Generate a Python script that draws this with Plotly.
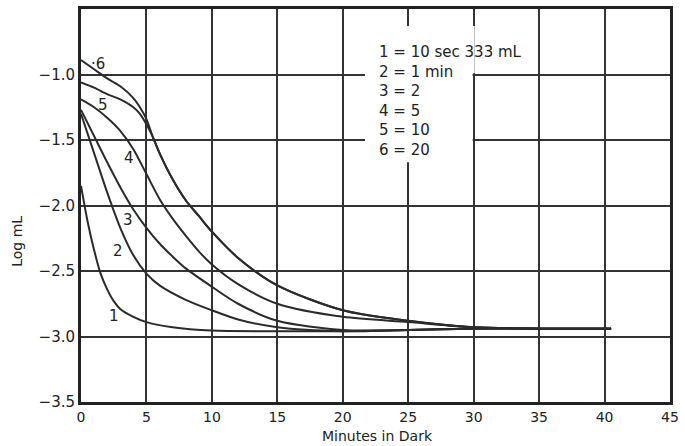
import plotly.graph_objects as go

# ---- data ----
c1_x = [0, 0.5, 1, 1.5, 2, 2.5, 3, 4, 5, 7, 10, 15, 20, 25, 30, 35, 40.5]
c1_y = [-1.85, -2.12, -2.34, -2.52, -2.64, -2.73, -2.79, -2.85, -2.89, -2.93, -2.955, -2.96, -2.96, -2.95, -2.94, -2.94, -2.94]

c2_x = [0, 1, 2, 3, 4, 5, 6, 8, 10, 12, 15, 20, 25, 30, 35, 40.5]
c2_y = [-1.3, -1.6, -1.9, -2.17, -2.38, -2.52, -2.61, -2.72, -2.8, -2.87, -2.93, -2.96, -2.95, -2.94, -2.94, -2.94]

c3_x = [0, 1, 2, 3, 4, 5, 6, 7, 8, 10, 12, 15, 20, 25, 30, 35, 40.5]
c3_y = [-1.27, -1.47, -1.67, -1.86, -2.03, -2.17, -2.29, -2.39, -2.48, -2.62, -2.75, -2.88, -2.95, -2.95, -2.94, -2.94, -2.94]

c4_x = [0, 1, 2, 3, 4, 5, 6, 7, 8, 9, 10, 12, 15, 20, 25, 30, 35, 40.5]
c4_y = [-1.19, -1.25, -1.33, -1.43, -1.57, -1.76, -1.95, -2.1, -2.23, -2.35, -2.45, -2.6, -2.75, -2.85, -2.89, -2.93, -2.94, -2.94]

c5_x = [0, 1, 2, 3, 4, 4.5, 5, 5.5, 6, 7, 8, 9, 10, 12, 15, 20, 25, 30, 35, 40.5]
c5_y = [-1.06, -1.1, -1.15, -1.19, -1.25, -1.3, -1.38, -1.48, -1.6, -1.8, -1.96, -2.08, -2.2, -2.4, -2.61, -2.8, -2.88, -2.93, -2.94, -2.94]

c6_x = [0, 1, 2, 3, 4, 4.5, 5, 5.5, 6, 7, 8, 9, 10, 12, 15, 20, 25, 30, 35, 40.5]
c6_y = [-0.89, -0.96, -1.03, -1.09, -1.18, -1.25, -1.34, -1.48, -1.6, -1.8, -1.96, -2.08, -2.2, -2.4, -2.61, -2.8, -2.88, -2.93, -2.94, -2.94]

curve_labels = ["1", "2", "3", "4", "5", "·6"]
label_x = [2.55, 2.8, 3.56, 3.7, 1.67, 1.3]
label_y = [-2.84, -2.35, -2.11, -1.64, -1.23, -0.92]

x_ticks = [0, 5, 10, 15, 20, 25, 30, 35, 40, 45]
y_ticks = [-3.5, -3.0, -2.5, -2.0, -1.5, -1.0]
y_ticktext = ["−3.5", "−3.0", "−2.5", "−2.0", "−1.5", "−1.0"]

key_lines = ["1 = 10 sec 333 mL", "2 = 1 min", "3 = 2", "4 = 5", "5 = 10", "6 = 20"]

ink = "#222222"
FONT = "DejaVu Sans"

fig = go.Figure()
for xs, ys in [(c1_x, c1_y), (c2_x, c2_y), (c3_x, c3_y), (c4_x, c4_y), (c5_x, c5_y), (c6_x, c6_y)]:
    fig.add_trace(go.Scatter(x=xs, y=ys, mode="lines",
                             line=dict(color="#2b2b2b", width=2, shape="spline", smoothing=0.8),
                             showlegend=False, hoverinfo="skip"))

for t, lx, ly in zip(curve_labels, label_x, label_y):
    fig.add_annotation(x=lx, y=ly, text=t, showarrow=False,
                       font=dict(family=FONT, size=15, color=ink))

# white box behind the key (gridlines are broken there)
fig.add_shape(type="rect", x0=21.7, x1=30.08, y0=-0.63, y1=-0.99,
              fillcolor="white", line=dict(width=0), layer="above")
fig.add_shape(type="rect", x0=21.7, x1=29.92, y0=-0.99, y1=-1.67,
              fillcolor="white", line=dict(width=0), layer="above")

fig.add_annotation(x=22.65, y=-0.745, xref="x", yref="y", xanchor="left", yanchor="top",
                   align="left", showarrow=False, text="<br>".join(key_lines),
                   font=dict(family=FONT, size=15, color=ink))

# axis titles
fig.add_annotation(text="Log mL", showarrow=False, textangle=-90,
                   font=dict(family=FONT, size=14, color=ink))
fig.add_annotation(text="Minutes in Dark", showarrow=False,
                   font=dict(family=FONT, size=14, color=ink))

fig.update_xaxes(range=[0, 45], tickvals=x_ticks, showgrid=True, gridcolor="#333333", gridwidth=2,
                 showline=True, linecolor="#222222", linewidth=3, mirror=True, zeroline=False,
                 ticks="", tickfont=dict(family=FONT, size=14, color=ink))
fig.update_yaxes(range=[-3.5, -0.5], tickvals=y_ticks, ticktext=y_ticktext, showgrid=True,
                 gridcolor="#333333", gridwidth=2, showline=True, linecolor="#222222", linewidth=3,
                 mirror=True, zeroline=False, ticks="", tickfont=dict(family=FONT, size=15, color=ink))

W, H = 685, 446
L, R, T, B = 81, 10, 6, 44
fig.update_layout(width=W, height=H, margin=dict(l=L, r=R, t=T, b=B),
                  paper_bgcolor="white", plot_bgcolor="white")

# place axis-title annotations in paper coordinates
pw, ph = W - L - R, H - T - B
fig.layout.annotations[-2].update(xref="paper", yref="paper", x=(17 - L) / pw, y=(H - B - 240) / ph,
                                  xanchor="center", yanchor="middle")
fig.layout.annotations[-1].update(xref="paper", yref="paper", x=(380 - L) / pw, y=(H - B - 436) / ph,
                                  xanchor="center", yanchor="middle")

fig.write_html("out.html")
